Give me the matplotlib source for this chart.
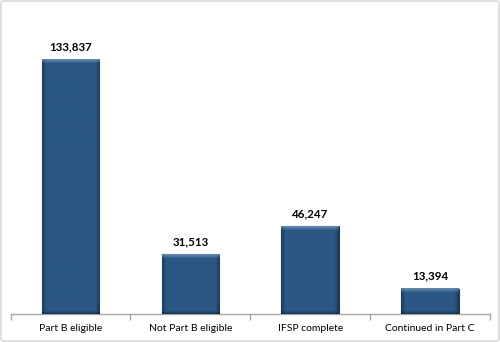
import numpy as np
import matplotlib
matplotlib.use("Agg")
import matplotlib.pyplot as plt
from matplotlib.patches import FancyBboxPatch

categories = ["Part B eligible", "Not Part B eligible", "IFSP complete", "Continued in Part C"]
values = [133837, 31513, 46247, 13394]

plt.rcParams['font.family'] = ['Lato', 'DejaVu Sans']

fig = plt.figure(figsize=(5.0, 3.42), dpi=100)
# light rounded frame around the chart area
frame = FancyBboxPatch((0.002, 0.003), 0.996, 0.994, boxstyle="round,pad=0,rounding_size=0.006",
                       transform=fig.transFigure, facecolor="none", edgecolor="#d9d9d9",
                       linewidth=1.2, zorder=-1)
fig.patches.append(frame)

ax = fig.add_axes([10.5 / 500, 28 / 342, 479.5 / 500, 285 / 342])
ax.set_facecolor("none")
x = np.arange(len(categories))
bar_w = 0.48
bars = ax.bar(x, values, width=bar_w, color="#2a5784", edgecolor="#1b3b5c", linewidth=0.8, zorder=2)
ax.set_xlim(-0.5, len(categories) - 0.5)
ax.set_ylim(0, 150000)

# bevelled shading inside each bar
fig.canvas.draw()
base = np.array([0x2a, 0x57, 0x84]) / 255.0
for b in bars:
    bb = b.get_window_extent()
    wpx, hpx = int(round(bb.width)), int(round(bb.height))
    img = np.ones((hpx, wpx, 3)) * base
    cols = np.arange(wpx)
    rows = np.arange(hpx)
    # darker toward the sides
    side = np.clip(1 - np.minimum(cols, wpx - 1 - cols) / 4.0, 0, 1)
    img *= (1 - 0.3 * side)[None, :, None]
    # light bevel along the top
    top = np.clip(1 - rows / 4.0, 0, 1)
    img = img + (np.array([0.75, 0.85, 0.95]) - img) * (0.4 * top)[:, None, None]
    # darker bottom edge
    bot = np.clip(1 - (hpx - 1 - rows) / 3.0, 0, 1)
    img *= (1 - 0.35 * bot)[:, None, None]
    x0, y0 = b.get_x(), b.get_y()
    ax.imshow(np.clip(img, 0, 1), extent=(x0, x0 + b.get_width(), y0, y0 + b.get_height()),
              aspect="auto", zorder=3, interpolation="bilinear")
    ax.text(b.get_x() + b.get_width() / 2, b.get_height() + 3800, f"{int(b.get_height()):,}",
            ha="center", va="bottom", fontsize=8.3, fontweight="bold", color="#000000", zorder=4)
ax.set_xlim(-0.5, len(categories) - 0.5)
ax.set_ylim(0, 150000)

for s in ["top", "right", "left"]:
    ax.spines[s].set_visible(False)
ax.spines["bottom"].set_color("#a6a6a6")
ax.spines["bottom"].set_linewidth(1.0)
ax.set_yticks([])
ax.set_xticks(x)
ax.set_xticklabels(categories, fontsize=7.5, color="#000000")
ax.tick_params(axis="x", length=0, pad=7)
ax.set_xticks(np.arange(-0.5, len(categories)), minor=True)
ax.tick_params(axis="x", which="minor", length=4, color="#a6a6a6", width=1.0)

fig.savefig("out.png", dpi=100)
